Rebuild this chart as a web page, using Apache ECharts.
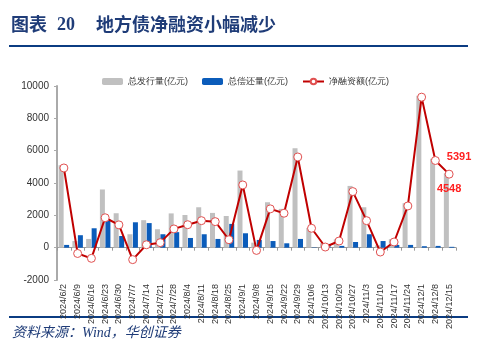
<!DOCTYPE html>
<html>
<head>
<meta charset="utf-8">
<script src="https://cdn.jsdelivr.net/npm/echarts@6/dist/echarts.min.js"></script>
<style>html,body{margin:0;padding:0;background:#fff;}#c{width:478px;height:360px;}</style>
</head>
<body>
<div id="c"></div>
<script>
var categories = ['2024/6/2','2024/6/9','2024/6/16','2024/6/23','2024/6/30','2024/7/7','2024/7/14','2024/7/21','2024/7/28','2024/8/4','2024/8/11','2024/8/18','2024/8/25','2024/9/1','2024/9/8','2024/9/15','2024/9/22','2024/9/29','2024/10/6','2024/10/13','2024/10/20','2024/10/27','2024/11/3','2024/11/10','2024/11/17','2024/11/24','2024/12/1','2024/12/8','2024/12/15'];
var issuance = [5100,410,540,3600,2130,830,1700,1140,2120,2020,2500,2150,1960,4770,310,2810,2400,6150,1220,270,520,3820,2500,140,520,2750,9400,5500,4600];
var repayment = [170,770,1200,1750,720,1570,1520,830,960,600,830,540,1470,890,480,410,270,540,20,230,110,350,830,410,170,170,90,109,52];
var netFinancing = [4930,-360,-660,1850,1410,-740,180,310,1160,1420,1670,1610,490,3880,-170,2400,2130,5610,1200,40,410,3470,1670,-270,350,2580,9310,5391,4548];
var yTicks = [-2000,0,2000,4000,6000,8000,10000];

var chart = echarts.init(document.getElementById('c'));
var lastIdx = netFinancing.length - 1;
var lineData = netFinancing.map(function(v, i){
  if (i === lastIdx - 1) return {value: v, label: {show: true, position: 'right', offset: [2, -4], formatter: '{c}'}};
  if (i === lastIdx) return {value: v, label: {show: true, position: 'bottom', offset: [0, 0], formatter: '{c}'}};
  return v;
});
chart.setOption({
  animation: false,
  textStyle: {fontFamily: 'Liberation Sans, Arial, sans-serif'},
  graphic: [
    {type: 'text', left: 11, top: 15, style: {text: '图表', font: 'bold 18px "Noto Sans CJK SC"', fill: '#1F3C78'}},
    {type: 'text', left: 57, top: 16, style: {text: '20', font: 'bold 18px "Liberation Serif", "DejaVu Serif", serif', fill: '#1F3C78'}},
    {type: 'text', left: 96, top: 15, style: {text: '地方债净融资小幅减少', font: 'bold 18px "Noto Sans CJK SC"', fill: '#1F3C78'}},
    {type: 'rect', shape: {x: 9, y: 45, width: 459, height: 2}, style: {fill: '#0B3C82'}},
    {type: 'rect', shape: {x: 9, y: 316, width: 459, height: 2}, style: {fill: '#0B3C82'}},
    {type: 'text', left: 12, top: 326, style: {text: '资料来源：Wind，华创证券', font: 'italic 14px "Liberation Serif", "Noto Sans CJK SC"', fill: '#1F3C78'}}
  ],
  legend: {
    top: 72, left: 97,
    itemWidth: 21, itemHeight: 7, itemGap: 14,
    textStyle: {fontSize: 9, color: '#333'},
    data: ['总发行量(亿元)', '总偿还量(亿元)', '净融资额(亿元)']
  },
  grid: {left: 57, right: 22, top: 86, bottom: 80},
  xAxis: {
    type: 'category', data: categories,
    axisLine: {onZero: true, lineStyle: {color: '#999'}},
    axisTick: {show: true, length: 3, lineStyle: {color: '#999'}},
    axisLabel: {rotate: 90, fontSize: 9, color: '#333', interval: 0, margin: 4}
  },
  yAxis: {
    type: 'value', min: -2000, max: 10000, interval: 2000,
    splitLine: {show: false},
    axisLine: {show: true, lineStyle: {color: '#aaa', width: 2}},
    axisTick: {show: true, length: 3, lineStyle: {color: '#aaa'}},
    axisLabel: {fontSize: 10, color: '#333', margin: 8, formatter: function(v){ return String(v); }}
  },
  series: [
    {name: '总发行量(亿元)', type: 'bar', data: issuance, barWidth: 5, barGap: '10%', itemStyle: {color: '#C0C0C0'}},
    {name: '总偿还量(亿元)', type: 'bar', data: repayment, barWidth: 5, itemStyle: {color: '#0B5CBA'}},
    {name: '净融资额(亿元)', type: 'line', data: lineData, symbol: 'circle', symbolSize: 8,
     lineStyle: {color: '#C00000', width: 2},
     itemStyle: {color: '#fff', borderColor: '#E05050', borderWidth: 1},
     label: {show: false, color: '#FF2020', fontWeight: 'bold', fontSize: 11},
     z: 5}
  ]
});
</script>
</body>
</html>
